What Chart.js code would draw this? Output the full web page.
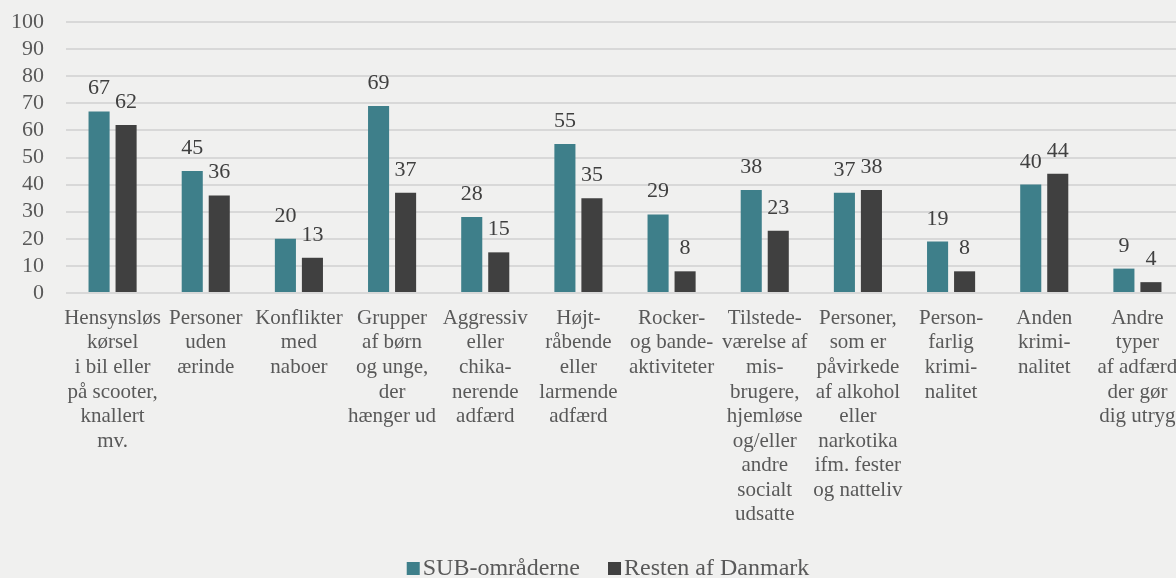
<!DOCTYPE html>
<html>
<head>
<meta charset="utf-8">
<script src="https://cdn.jsdelivr.net/npm/chart.js@4/dist/chart.umd.min.js"></script>
<style>
  html, body { margin: 0; padding: 0; background: #f0f0ef; overflow: hidden; }
  #wrap { width: 1176px; height: 578px; overflow: hidden; }
</style>
</head>
<body>
<div id="wrap"><canvas id="chart" width="1216" height="578"></canvas></div>
<script>
// categories (multi-line labels as in the original figure)
const categories = [
  ["Hensynsløs", "kørsel", "i bil eller", "på scooter,", "knallert", "mv."],
  ["Personer", "uden", "ærinde"],
  ["Konflikter", "med", "naboer"],
  ["Grupper", "af børn", "og unge,", "der", "hænger ud"],
  ["Aggressiv", "eller", "chika-", "nerende", "adfærd"],
  ["Højt-", "råbende", "eller", "larmende", "adfærd"],
  ["Rocker-", "og bande-", "aktiviteter"],
  ["Tilstede-", "værelse af", "mis-", "brugere,", "hjemløse", "og/eller", "andre", "socialt", "udsatte"],
  ["Personer,", "som er", "påvirkede", "af alkohol", "eller", "narkotika", "ifm. fester", "og natteliv"],
  ["Person-", "farlig", "krimi-", "nalitet"],
  ["Anden", "krimi-", "nalitet"],
  ["Andre", "typer", "af adfærd", "der gør", "dig utryg"]
];
const subValues = [67, 45, 20, 69, 28, 55, 29, 38, 37, 19, 40, 9];
const restValues = [62, 36, 13, 37, 15, 35, 8, 23, 38, 8, 44, 4];
const seriesNames = ["SUB-områderne", "Resten af Danmark"];

const serif = "'Liberation Serif', 'Times New Roman', serif";
const textGray = '#595959';

// value labels above each bar
const barLabels = {
  id: 'barLabels',
  afterDatasetsDraw(chart) {
    const ctx = chart.ctx;
    ctx.save();
    ctx.font = '22px ' + serif;
    ctx.fillStyle = '#404040';
    ctx.textAlign = 'center';
    ctx.textBaseline = 'alphabetic';
    chart.data.datasets.forEach((ds, i) => {
      chart.getDatasetMeta(i).data.forEach((bar, j) => {
        ctx.fillText(ds.data[j], bar.x, bar.y - 17);
      });
    });
    ctx.restore();
  }
};

// legend drawn at the bottom, centred on the canvas
const bottomLegend = {
  id: 'bottomLegend',
  afterDraw(chart) {
    const ctx = chart.ctx;
    const box = 13, gap = 3, spacing = 28, baseline = 575;
    ctx.save();
    ctx.font = '24px ' + serif;
    ctx.textBaseline = 'alphabetic';
    ctx.textAlign = 'left';
    const items = chart.data.datasets.map(ds => ({
      text: ds.label, color: ds.backgroundColor, w: box + gap + ctx.measureText(ds.label).width
    }));
    const total = items.reduce((s, it) => s + it.w, 0) + spacing * (items.length - 1);
    let x = chart.width / 2 - total / 2;
    items.forEach(it => {
      ctx.fillStyle = it.color;
      ctx.fillRect(x, baseline - box, box, box);
      ctx.fillStyle = textGray;
      ctx.fillText(it.text, x + box + gap, baseline);
      x += it.w + spacing;
    });
    ctx.restore();
  }
};

new Chart(document.getElementById('chart'), {
  type: 'bar',
  data: {
    labels: categories,
    datasets: [
      { label: seriesNames[0], data: subValues, backgroundColor: '#3e7f8a' },
      { label: seriesNames[1], data: restValues, backgroundColor: '#404040' }
    ]
  },
  options: {
    responsive: false,
    animation: false,
    categoryPercentage: 0.58,
    barPercentage: 0.78,
    layout: { padding: { top: 22, right: 32, bottom: 0, left: 0 } },
    plugins: {
      legend: { display: false },
      tooltip: { enabled: false }
    },
    scales: {
      x: {
        grid: { display: false },
        border: { display: false },
        ticks: {
          autoSkip: false,
          maxRotation: 0,
          minRotation: 0,
          padding: 5,
          color: textGray,
          font: { family: serif, size: 21, lineHeight: 1.17 }
        },
        afterFit(scale) { scale.height = 285; }
      },
      y: {
        min: 0,
        max: 100,
        grid: { color: '#d8d8d8', lineWidth: 2, drawTicks: false },
        border: { display: false },
        ticks: {
          stepSize: 10,
          autoSkip: false,
          padding: 22,
          color: textGray,
          font: { family: serif, size: 22 }
        },
        afterFit(scale) {
          scale.width = 66;
          scale.paddingTop = 0;
          scale.paddingBottom = 0;
        }
      }
    }
  },
  plugins: [barLabels, bottomLegend]
});
</script>
</body>
</html>
